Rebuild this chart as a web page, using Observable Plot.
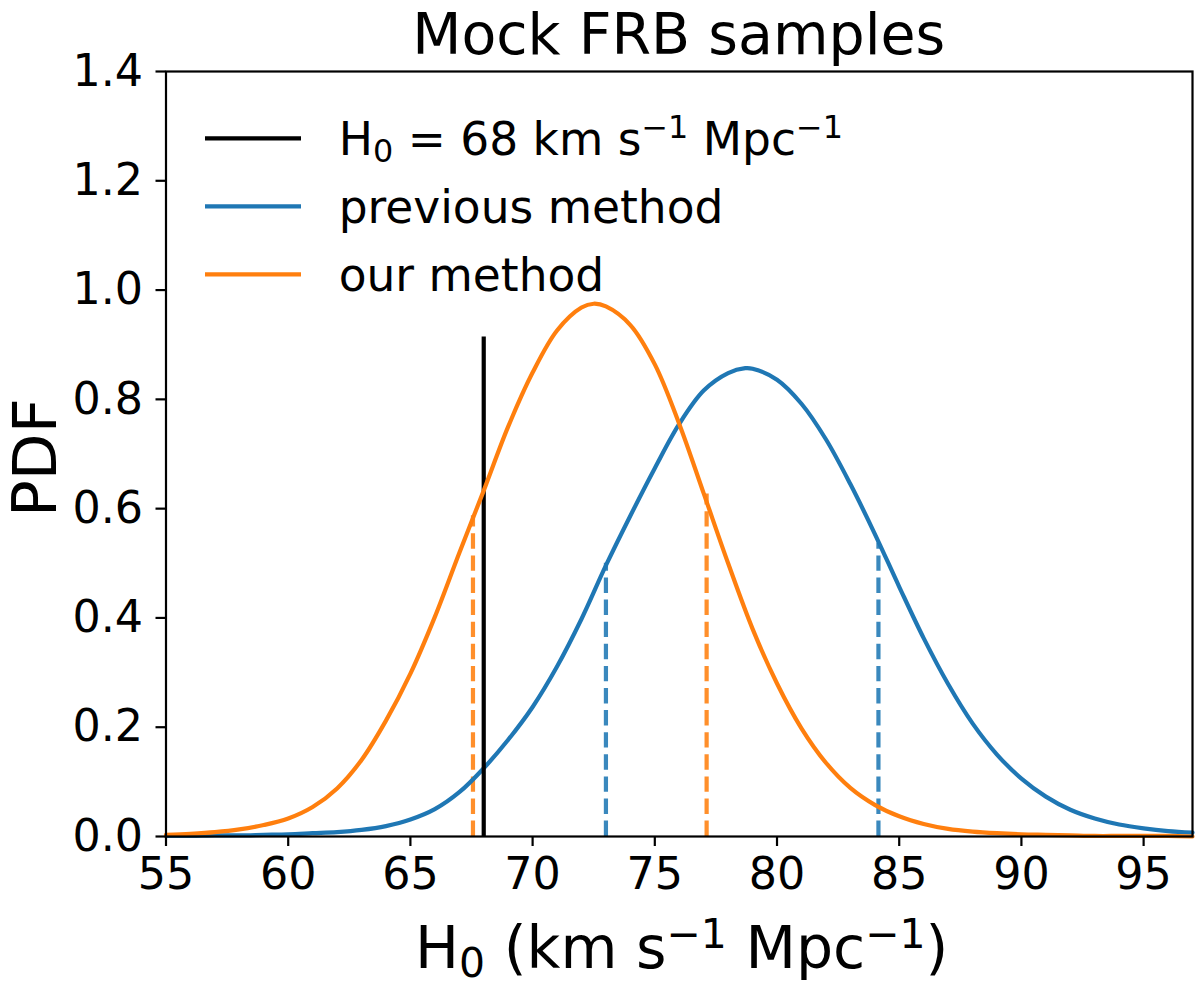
<!DOCTYPE html>
<html>
<head>
<meta charset="utf-8">
<script src="https://cdn.jsdelivr.net/npm/d3@7"></script>
<script src="https://cdn.jsdelivr.net/npm/@observablehq/plot@0.6"></script>
<style>
  body { margin: 0; background: white; }
  #chart svg { display: block; }
</style>
</head>
<body>
<div id="chart"></div>
<script>
// values
const xTicks = [55, 60, 65, 70, 75, 80, 85, 90, 95];
const yTicks = [0, 0.2, 0.4, 0.6, 0.8, 1.0, 1.2, 1.4];

// previous method (blue)
const prevH0 = [55, 56, 57, 58, 59, 60, 61, 62, 63, 64, 65, 66, 67, 68, 69, 70, 71, 72, 73, 74, 75, 76, 77, 78, 78.7, 79, 80, 81, 82, 83, 84, 85, 86, 87, 88, 89, 90, 91, 92, 93, 94, 95, 96, 97];
const prevPdf = [0.001, 0.001, 0.002, 0.002, 0.003, 0.004, 0.006, 0.008, 0.012, 0.019, 0.031, 0.050, 0.081, 0.125, 0.177, 0.237, 0.311, 0.398, 0.496, 0.587, 0.674, 0.755, 0.816, 0.848, 0.857, 0.856, 0.836, 0.792, 0.727, 0.645, 0.554, 0.457, 0.363, 0.279, 0.207, 0.150, 0.106, 0.073, 0.049, 0.033, 0.022, 0.015, 0.010, 0.007];

// our method (orange)
const ourH0 = [55, 56, 57, 58, 59, 60, 61, 62, 63, 64, 65, 66, 67, 68, 69, 70, 71, 72, 72.5, 73, 74, 75, 76, 77, 78, 79, 80, 81, 82, 83, 84, 85, 86, 87, 88, 89, 90, 91, 92, 93, 94, 95, 96, 97];
const ourPdf = [0.003, 0.005, 0.008, 0.013, 0.021, 0.033, 0.054, 0.088, 0.140, 0.212, 0.298, 0.402, 0.519, 0.633, 0.750, 0.849, 0.926, 0.968, 0.975, 0.970, 0.936, 0.864, 0.755, 0.628, 0.500, 0.380, 0.280, 0.198, 0.135, 0.089, 0.058, 0.037, 0.023, 0.014, 0.009, 0.006, 0.004, 0.003, 0.002, 0.001, 0.001, 0.001, 0.001, 0.000];

// 68% bounds (dashed) and their heights
const prevBounds = [73.0, 84.15];
const prevBoundTops = [0.500, 0.537];
const ourBounds = [67.56, 77.12];
const ourBoundTops = [0.587, 0.627];

// true value
const h0True = 68;
const h0Top = 0.914;

const blue = "#1f77b4", orange = "#ff7f0e";
const table = (xs, ys) => xs.map((x, i) => ({ h0: x, pdf: ys[i] }));

const W = 1200, H = 986;
const mL = 165.5, mR = 8, mT = 71, mB = 150;
const lw = 4.2;

const chart = Plot.plot({
  width: W,
  height: H,
  marginLeft: mL,
  marginRight: mR,
  marginTop: mT,
  marginBottom: mB,
  style: { fontFamily: "DejaVu Sans", fontSize: "44.4px", color: "black", background: "white" },
  x: { domain: [55, 97] },
  y: { domain: [0, 1.4] },
  marks: [
    Plot.ruleX(table(prevBounds, prevBoundTops), {
      x: "h0", y1: 0, y2: "pdf",
      stroke: blue, strokeOpacity: 0.88, strokeWidth: lw, strokeDasharray: "15.4,6.7"
    }),
    Plot.ruleX(table(ourBounds, ourBoundTops), {
      x: "h0", y1: 0, y2: "pdf",
      stroke: orange, strokeOpacity: 0.88, strokeWidth: lw, strokeDasharray: "15.4,6.7"
    }),
    Plot.line(table(prevH0, prevPdf), {
      x: "h0", y: "pdf", stroke: blue, strokeWidth: lw, curve: "catmull-rom"
    }),
    Plot.ruleX([h0True], { x: d => d, y1: 0, y2: h0Top, stroke: "black", strokeWidth: lw }),
    Plot.line(table(ourH0, ourPdf), {
      x: "h0", y: "pdf", stroke: orange, strokeWidth: lw, curve: "catmull-rom"
    }),
    Plot.axisX({
      ticks: xTicks, tickFormat: d => String(d), tickSize: 10, tickPadding: 11,
      strokeWidth: 2.2, label: null
    }),
    Plot.axisY({
      ticks: yTicks, tickFormat: d3.format(".1f"), tickSize: 10, tickPadding: 13,
      strokeWidth: 2.2, label: null
    }),
    Plot.frame({ stroke: "black", strokeWidth: 2.2 })
  ]
});

document.getElementById("chart").append(chart);

// text with sub/superscripts
function richText(g, parts, size, subDy, supDy) {
  const t = g.append("text").attr("font-size", size).attr("fill", "black");
  let shift = 0;
  for (const [s, kind] of parts) {
    const target = kind === "sub" ? subDy : kind === "sup" ? -supDy : 0;
    const ts = t.append("tspan").text(s).attr("dy", target - shift);
    if (kind) ts.attr("font-size", size * 0.7);
    shift = target;
  }
  return t;
}

const svg = d3.select(chart);
const cx = mL + (W - mL - mR) / 2;

// title
svg.append("text")
  .attr("x", cx).attr("y", 53.5)
  .attr("text-anchor", "middle")
  .attr("font-size", 57)
  .attr("fill", "black")
  .text("Mock FRB samples");

// x label
richText(svg, [["H", ""], ["0", "sub"], [" (km s", ""], ["\u22121", "sup"], [" Mpc", ""], ["\u22121", "sup"], [")", ""]], 58.5, 9, 20)
  .attr("x", cx + 3).attr("y", 968).attr("text-anchor", "middle");

// y label
svg.append("text")
  .attr("transform", `translate(56,${mT + (H - mT - mB) / 2 + 4}) rotate(-90)`)
  .attr("text-anchor", "middle")
  .attr("font-size", 61)
  .attr("fill", "black")
  .text("PDF");

// legend
const legendRows = [
  { parts: [["H", ""], ["0", "sub"], [" = 68 km s", ""], ["\u22121", "sup"], [" Mpc", ""], ["\u22121", "sup"]], color: "black" },
  { parts: [["previous method", ""]], color: blue },
  { parts: [["our method", ""]], color: orange }
];
const lg = svg.append("g").attr("text-anchor", "start");
legendRows.forEach((r, i) => {
  const y = 138.3 + i * 68;
  lg.append("line")
    .attr("x1", 205).attr("x2", 301).attr("y1", y).attr("y2", y)
    .attr("stroke", r.color).attr("stroke-width", lw);
  richText(lg, r.parts, 45.5, 7.5, 17)
    .attr("x", 338.7).attr("y", y + 16.5).attr("text-anchor", "start");
});
</script>
</body>
</html>
